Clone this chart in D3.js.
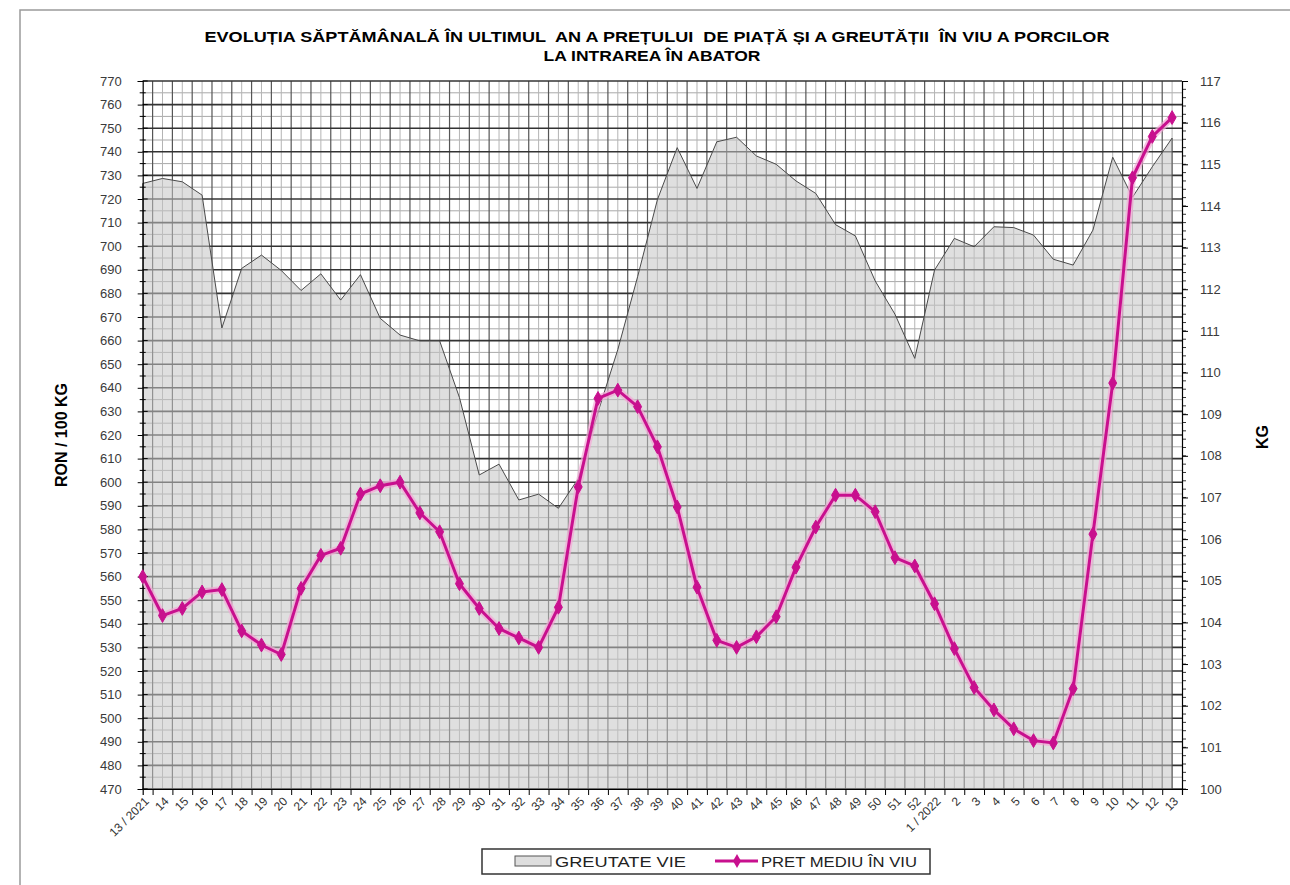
<!DOCTYPE html>
<html>
<head>
<meta charset="utf-8">
<script src="https://cdn.jsdelivr.net/npm/d3@7"></script>
<style>
body { margin: 0; background: #fff; }
svg { font-family: 'Liberation Sans', Arial, sans-serif; }
</style>
</head>
<body>
<svg id="svg" width="1290" height="885"></svg>
<script>
// saptamani (categorii)
var weekLabels = ['13 / 2021','14','15','16','17','18','19','20','21','22','23','24','25','26','27','28','29','30','31','32','33','34','35','36','37','38','39','40','41','42','43','44','45','46','47','48','49','50','51','52','1 / 2022','2','3','4','5','6','7','8','9','10','11','12','13'];

// pret mediu in viu, RON / 100 KG
var pretMediu = [560, 543.5, 546.5, 553.5, 554.5, 537, 531, 527, 555, 569, 572, 595, 598.5, 600, 587, 579, 557, 546.5, 538, 534, 530, 547, 598, 635.5, 639, 632, 615, 589.5, 555.5, 533, 530, 534.5, 543, 564, 581, 594.5, 594.5, 587.5, 568, 564.5, 548.5, 529.5, 513, 503.5, 495.5, 490.5, 489.5, 512.5, 578, 642, 729, 746.5, 754.5];

// greutate vie, KG
var greutateVie = [114.54, 114.66, 114.58, 114.26, 111.07, 112.5, 112.82, 112.45, 111.97, 112.37, 111.74, 112.35, 111.3, 110.9, 110.76, 110.76, 109.4, 107.54, 107.8, 106.94, 107.08, 106.74, 107.45, 109.05, 110.55, 112.3, 114.15, 115.4, 114.42, 115.54, 115.65, 115.2, 115.0, 114.6, 114.3, 113.55, 113.28, 112.2, 111.4, 110.34, 112.46, 113.22, 113.02, 113.5, 113.48, 113.3, 112.72, 112.58, 113.42, 115.17, 114.21, 114.94, 115.63];

var leftTicks = [470,480,490,500,510,520,530,540,550,560,570,580,590,600,610,620,630,640,650,660,670,680,690,700,710,720,730,740,750,760,770];
var rightTicks = [100,101,102,103,104,105,106,107,108,109,110,111,112,113,114,115,116,117];

var plotLeft = 142.7, plotRight = 1182, plotTop = 81, plotBottom = 789;
var pink = '#c8108e';

var svg = d3.select('svg');

var x = d3.scaleLinear().domain([0, weekLabels.length - 0.5]).range([plotLeft, plotRight]);
var yL = d3.scaleLinear().domain([470, 770]).range([plotBottom, plotTop]);
var yR = d3.scaleLinear().domain([100, 117]).range([plotBottom, plotTop]);

// chenar exterior
svg.append('rect')
    .attr('x', 20).attr('y', 10)
    .attr('width', 1400).attr('height', 1000)
    .attr('fill', 'none')
    .attr('stroke', '#9a9a9a')
    .attr('stroke-width', 1.5);

// titlu
svg.append('text')
    .attr('x', 657).attr('y', 42)
    .attr('text-anchor', 'middle')
    .attr('font-size', 14).attr('font-weight', 'bold')
    .style('white-space', 'pre')
    .attr('textLength', 905).attr('lengthAdjust', 'spacingAndGlyphs')
    .text('EVOLUȚIA SĂPTĂMÂNALĂ ÎN ULTIMUL  AN A PREȚULUI  DE PIAȚĂ ȘI A GREUTĂȚII  ÎN VIU A PORCILOR');

svg.append('text')
    .attr('x', 652).attr('y', 61)
    .attr('text-anchor', 'middle')
    .attr('font-size', 14).attr('font-weight', 'bold')
    .attr('textLength', 217).attr('lengthAdjust', 'spacingAndGlyphs')
    .text('LA INTRAREA ÎN ABATOR');

var grid = svg.append('g');

// grila minora
grid.selectAll('.hminor')
    .data(leftTicks.slice(0, -1))
    .enter().append('line')
    .attr('x1', plotLeft).attr('x2', plotRight)
    .attr('y1', function (d) { return yL(d + 5); })
    .attr('y2', function (d) { return yL(d + 5); })
    .attr('stroke', '#a8a8a8').attr('stroke-width', 1);

grid.selectAll('.vminor')
    .data(weekLabels.slice(1))
    .enter().append('line')
    .attr('x1', function (d, i) { return x(i + 1); })
    .attr('x2', function (d, i) { return x(i + 1); })
    .attr('y1', plotTop).attr('y2', plotBottom)
    .attr('stroke', '#b4b4b4').attr('stroke-width', 1);

// grila majora
grid.selectAll('.vmajor')
    .data(weekLabels.slice(0, -1))
    .enter().append('line')
    .attr('x1', function (d, i) { return x(i + 0.5); })
    .attr('x2', function (d, i) { return x(i + 0.5); })
    .attr('y1', plotTop).attr('y2', plotBottom)
    .attr('stroke', '#555').attr('stroke-width', 1.2);

grid.selectAll('.hmajor')
    .data(leftTicks)
    .enter().append('line')
    .attr('x1', plotLeft).attr('x2', plotRight)
    .attr('y1', function (d) { return yL(d); })
    .attr('y2', function (d) { return yL(d); })
    .attr('stroke', '#333').attr('stroke-width', 1.6);

// aria greutate vie
var area = d3.area()
    .x(function (d, i) { return x(i); })
    .y0(plotBottom)
    .y1(function (d) { return yR(d); });

svg.append('path')
    .datum(greutateVie)
    .attr('d', area)
    .attr('fill', '#c4c4c4')
    .attr('fill-opacity', 0.55)
    .attr('stroke', '#4a4a4a')
    .attr('stroke-width', 1);

// axe
var axisLeft = d3.axisLeft(yL).tickValues(leftTicks).tickSize(5).tickPadding(16);
var gL = svg.append('g')
    .attr('transform', 'translate(' + plotLeft + ',0)')
    .call(axisLeft);

// tick-uri minore stanga
svg.selectAll('.lminor')
    .data(leftTicks.slice(0, -1))
    .enter().append('line')
    .attr('x1', plotLeft - 3).attr('x2', plotLeft + 3)
    .attr('y1', function (d) { return yL(d + 5); })
    .attr('y2', function (d) { return yL(d + 5); })
    .attr('stroke', '#000');

svg.selectAll('.lmajorin')
    .data(leftTicks)
    .enter().append('line')
    .attr('x1', plotLeft).attr('x2', plotLeft + 5)
    .attr('y1', function (d) { return yL(d); })
    .attr('y2', function (d) { return yL(d); })
    .attr('stroke', '#000');

var axisRight = d3.axisRight(yR).tickValues(rightTicks).tickSize(6).tickPadding(12);
var gR = svg.append('g')
    .attr('transform', 'translate(' + plotRight + ',0)')
    .call(axisRight);

svg.selectAll('.rminor')
    .data(d3.range(100, 117, 0.2))
    .enter().append('line')
    .attr('x1', plotRight).attr('x2', plotRight + 4)
    .attr('y1', function (d) { return yR(d); })
    .attr('y2', function (d) { return yR(d); })
    .attr('stroke', '#000').attr('stroke-width', 0.8);

var axisBottom = d3.axisBottom(x)
    .tickValues(weekLabels.slice(0, -1).map(function (d, i) { return i + 0.5; }))
    .tickSize(6)
    .tickFormat('');
svg.append('g')
    .attr('transform', 'translate(0,' + plotBottom + ')')
    .call(axisBottom);

[gL, gR].forEach(function (g) {
    g.selectAll('text')
        .attr('font-size', 13)
        .attr('fill', '#3a3a3a')
        .attr('font-family', "'Liberation Sans', Arial, sans-serif");
});
svg.selectAll('.domain').attr('stroke', '#000').attr('stroke-width', 1.2);

// etichete axa X
svg.selectAll('.xlab')
    .data(weekLabels)
    .enter().append('text')
    .attr('transform', function (d, i) {
        return 'translate(' + (x(i) + 4) + ',' + (plotBottom + 10) + ') rotate(-45)';
    })
    .attr('text-anchor', 'end')
    .attr('dy', '0.35em')
    .attr('font-size', 12)
    .attr('fill', '#333')
    .text(function (d) { return d; });

// titluri axe
svg.append('text')
    .attr('transform', 'translate(67,435) rotate(-90)')
    .attr('text-anchor', 'middle')
    .attr('font-size', 16).attr('font-weight', 'bold')
    .text('RON / 100 KG');

svg.append('text')
    .attr('transform', 'translate(1268,437) rotate(-90)')
    .attr('text-anchor', 'middle')
    .attr('font-size', 16).attr('font-weight', 'bold')
    .text('KG');

// linia pret mediu
var line = d3.line()
    .x(function (d, i) { return x(i); })
    .y(function (d) { return yL(d); });

svg.append('path')
    .datum(pretMediu)
    .attr('d', line)
    .attr('fill', 'none')
    .attr('stroke', '#f3a6d6')
    .attr('stroke-opacity', 0.7)
    .attr('stroke-width', 7);

svg.append('path')
    .datum(pretMediu)
    .attr('d', line)
    .attr('fill', 'none')
    .attr('stroke', pink)
    .attr('stroke-width', 3);

var diamond = d3.symbol().type(d3.symbolDiamond).size(55);

svg.selectAll('.marker')
    .data(pretMediu)
    .enter().append('path')
    .attr('d', diamond)
    .attr('transform', function (d, i) { return 'translate(' + x(i) + ',' + yL(d) + ')'; })
    .attr('fill', pink)
    .attr('stroke', pink)
    .attr('stroke-width', 1);

// legenda
svg.append('rect')
    .attr('x', 482).attr('y', 849)
    .attr('width', 448).attr('height', 25)
    .attr('fill', '#fff')
    .attr('stroke', '#333')
    .attr('stroke-width', 1.5);

svg.append('rect')
    .attr('x', 515).attr('y', 856)
    .attr('width', 36).attr('height', 10)
    .attr('fill', '#dedede')
    .attr('stroke', '#555')
    .attr('stroke-width', 1);

svg.append('text')
    .attr('x', 555).attr('y', 867)
    .attr('font-size', 15)
    .attr('fill', '#222')
    .attr('textLength', 131).attr('lengthAdjust', 'spacingAndGlyphs')
    .text('GREUTATE VIE');

svg.append('line')
    .attr('x1', 715).attr('x2', 758)
    .attr('y1', 861).attr('y2', 861)
    .attr('stroke', pink)
    .attr('stroke-width', 3);

svg.append('path')
    .attr('d', diamond)
    .attr('transform', 'translate(737,861)')
    .attr('fill', pink);

svg.append('text')
    .attr('x', 761).attr('y', 867)
    .attr('font-size', 15)
    .attr('fill', '#222')
    .attr('textLength', 156).attr('lengthAdjust', 'spacingAndGlyphs')
    .text('PRET MEDIU ÎN VIU');
</script>
</body>
</html>
